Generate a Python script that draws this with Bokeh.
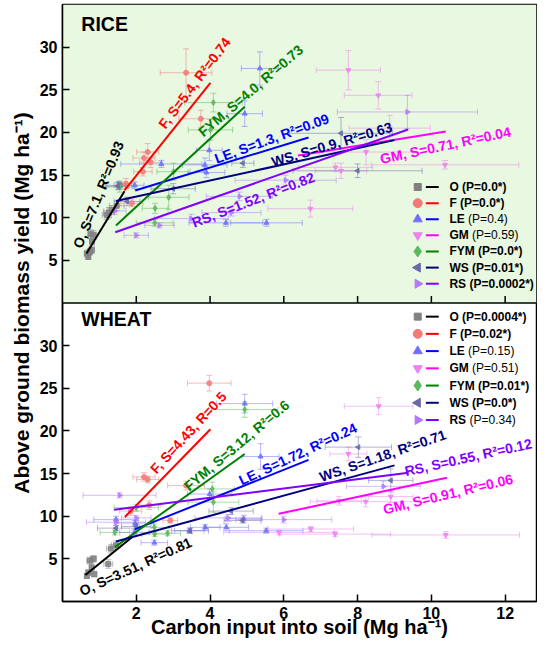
import math
from bokeh.plotting import figure
from bokeh.models import (Range1d, FixedTicker, ColumnDataSource, Whisker,
                          TeeHead, BoxAnnotation, Span)
from bokeh.core.properties import value
from bokeh.embed import file_html
from bokeh.resources import INLINE

FONT = "Liberation Sans"
SERIES = ["O", "F", "LE", "GM", "FYM", "WS", "RS"]
X_TICKS = [2, 4, 6, 8, 10, 12]
Y_TICKS = [5, 10, 15, 20, 25, 30]
PANEL_SPAN = 35

# ---------------- RICE (upper panel): mean +- error ----------------
RICE_O = dict(x=[0.66, 0.70, 0.74, 0.79, 0.76, 0.84, 0.80, 1.20, 1.26, 1.33, 1.47, 1.55],
              y=[5.8, 5.4, 6.0, 6.2, 8.1, 8.0, 7.2, 10.3, 10.6, 10.9, 11.4, 13.8],
              xe=[0.06, 0.05, 0.06, 0.08, 0.07, 0.08, 0.06, 0.12, 0.15, 0.12, 0.2, 0.15],
              ye=[0.4, 0.3, 0.4, 0.4, 0.5, 0.5, 0.4, 0.5, 0.6, 0.5, 0.6, 0.5])
RICE_F = dict(x=[3.35, 3.75, 2.31, 2.21, 2.39, 2.18, 1.88, 1.72],
              y=[27.0, 21.6, 17.7, 17.0, 16.5, 15.4, 11.7, 14.0],
              xe=[0.7, 0.6, 0.3, 0.3, 0.3, 0.25, 0.3, 0.2],
              ye=[2.8, 1.0, 1.0, 0.7, 0.6, 0.5, 0.4, 0.6])
RICE_LE = dict(x=[5.35, 4.94, 3.98, 3.86, 2.68, 3.90, 4.43, 5.53, 1.52, 1.96],
               y=[27.5, 22.2, 17.9, 16.2, 16.3, 15.3, 9.4, 9.4, 13.8, 13.8],
               xe=[0.5, 0.48, 0.35, 0.6, 1.1, 0.5, 1.0, 0.97, 0.35, 0.25],
               ye=[1.95, 1.5, 1.2, 0.8, 0.4, 0.6, 0.4, 0.4, 0.4, 0.4])
RICE_GM = dict(x=[7.75, 8.56, 8.23, 7.40, 7.55, 10.37, 6.72, 8.87],
               y=[27.3, 24.35, 17.7, 15.9, 15.5, 16.2, 11.06, 20.5],
               xe=[0.87, 0.92, 1.28, 1.0, 0.7, 2.0, 1.15, 1.1],
               ye=[2.3, 1.6, 1.5, 0.5, 0.9, 0.5, 1.0, 1.5])
RICE_FYM = dict(x=[4.09, 4.01, 2.88, 2.51, 2.50, 3.01, 1.55],
                y=[23.5, 20.3, 12.4, 11.1, 9.4, 15.4, 13.6],
                xe=[0.78, 0.6, 0.55, 0.35, 0.5, 0.45, 0.4],
                ye=[1.1, 1.2, 1.4, 0.6, 0.4, 1.0, 0.6])
RICE_WS = dict(x=[7.55, 8.0, 4.89, 1.50, 1.75, 3.0],
               y=[19.9, 15.5, 16.4, 13.7, 11.9, 13.4],
               xe=[1.4, 1.75, 0.3, 0.3, 0.35, 0.6],
               ye=[1.85, 0.8, 0.5, 0.4, 0.5, 0.6])
RICE_RS = dict(x=[9.35, 2.0, 2.63, 3.49, 4.58, 6.05, 4.8, 1.42],
               y=[22.4, 7.93, 9.1, 9.9, 10.6, 14.4, 12.5, 10.8],
               xe=[1.9, 0.33, 0.4, 1.0, 0.8, 1.37, 0.9, 0.3],
               ye=[1.95, 0.3, 0.3, 0.5, 0.4, 0.6, 0.5, 0.4])

RICE_FIT_X = {"O": [0.65, 1.68], "F": [1.68, 4.01], "LE": [1.97, 6.67], "GM": [6.38, 10.39],
              "FYM": [1.45, 4.94], "WS": [1.45, 9.0], "RS": [1.43, 9.37]}
RICE_FIT_Y = {"O": [5.8, 13.1], "F": [13.2, 25.8], "LE": [13.2, 19.4], "GM": [17.3, 20.1],
              "FYM": [9.1, 23.0], "WS": [11.95, 19.1], "RS": [8.3, 20.35]}
RICE_TEXT = {"O": "O, S=7.1, R\u00b2=0.93", "F": "F, S=5.4, R\u00b2=0.74",
             "LE": "LE, S=1.3, R\u00b2=0.09", "GM": "GM, S=0.71, R\u00b2=0.04",
             "FYM": "FYM, S=4.0, R\u00b2=0.73", "WS": "WS, S=0.9, R\u00b2=0.63",
             "RS": "RS, S=1.52, R\u00b2=0.82"}
RICE_P = {"O": "(P=0.0*)", "F": "(P=0.0*)", "LE": "(P=0.4)", "GM": "(P=0.59)",
          "FYM": "(P=0.0*)", "WS": "(P=0.01*)", "RS": "(P=0.0002*)"}

# ---------------- WHEAT (lower panel) ----------------
WHEAT_O = dict(x=[0.66, 0.70, 0.74, 0.79, 0.84, 0.86, 1.24, 1.31, 1.45],
               y=[3.0, 3.4, 4.8, 4.0, 5.0, 3.2, 4.4, 6.2, 6.6],
               xe=[0.06, 0.06, 0.08, 0.06, 0.08, 0.07, 0.12, 0.12, 0.12],
               ye=[0.3, 0.3, 0.4, 0.4, 0.4, 0.3, 0.5, 0.5, 0.5])
WHEAT_F = dict(x=[3.98, 2.21, 2.31, 3.35, 1.85, 2.92, 2.35],
               y=[25.6, 14.6, 14.3, 13.6, 10.6, 9.5, 11.3],
               xe=[0.59, 0.3, 0.3, 0.5, 0.3, 0.2, 0.3],
               ye=[0.92, 0.5, 0.4, 0.5, 0.5, 0.3, 0.5])
WHEAT_LE = dict(x=[4.94, 5.37, 3.99, 1.97, 1.45, 2.49, 3.44, 3.87, 4.44, 4.91, 5.52, 1.95],
                y=[23.2, 17.0, 12.6, 9.2, 9.6, 6.9, 8.3, 8.7, 8.7, 9.7, 8.3, 8.1],
                xe=[0.76, 0.5, 0.6, 0.5, 0.6, 0.36, 0.4, 0.4, 0.6, 0.5, 1.0, 0.4],
                ye=[1.1, 1.5, 0.6, 0.3, 0.4, 0.3, 0.3, 0.3, 0.4, 0.4, 0.3, 0.3])
WHEAT_GM = dict(x=[8.57, 7.75, 8.22, 7.5, 5.87, 6.73, 7.39, 10.39, 8.9],
                y=[22.9, 17.3, 11.7, 11.8, 8.1, 8.5, 7.9, 7.8, 12.3],
                xe=[0.93, 0.5, 1.5, 0.6, 1.5, 1.16, 1.5, 2.0, 0.6],
                ye=[1.0, 0.8, 0.6, 0.5, 0.3, 0.3, 0.3, 0.4, 0.7])
WHEAT_FYM = dict(x=[4.94, 4.06, 4.09, 2.50, 2.49, 1.42, 2.85, 2.0],
                 y=[22.5, 13.2, 11.65, 7.9, 8.7, 8.1, 8.0, 11.0],
                 xe=[0.9, 0.6, 0.69, 0.35, 0.4, 0.4, 0.35, 0.6],
                 ye=[0.9, 0.8, 1.2, 0.3, 0.4, 0.3, 0.3, 0.4])
WHEAT_WS = dict(x=[8.02, 8.9, 4.57, 4.88, 3.46, 2.0, 1.45],
                y=[18.1, 14.2, 10.6, 9.5, 8.3, 8.8, 8.6],
                xe=[0.9, 0.6, 0.6, 0.5, 0.5, 0.4, 0.5],
                ye=[1.2, 1.35, 0.4, 0.3, 0.3, 0.3, 0.3])
WHEAT_RS = dict(x=[1.55, 1.45, 2.0, 4.49, 6.0, 8.7],
                y=[12.45, 9.3, 9.8, 9.8, 9.6, 13.5],
                xe=[0.99, 0.8, 0.4, 0.9, 1.3, 1.0],
                ye=[0.3, 0.4, 0.3, 0.4, 0.4, 0.6])

WHEAT_FIT_X = {"O": [0.62, 1.9], "F": [1.69, 4.01], "LE": [1.96, 6.67], "GM": [5.86, 10.42],
               "FYM": [1.42, 4.94], "WS": [1.45, 9.0], "RS": [1.40, 9.38]}
WHEAT_FIT_Y = {"O": [3.1, 7.6], "F": [9.9, 20.2], "LE": [8.45, 16.6], "GM": [10.28, 14.5],
               "FYM": [6.37, 17.3], "WS": [7.03, 15.96], "RS": [10.76, 15.1]}
WHEAT_TEXT = {"O": "O, S=3.51, R\u00b2=0.81", "F": "F, S=4.43, R=0.5",
              "LE": "LE, S=1.72, R\u00b2=0.24", "GM": "GM, S=0.91, R\u00b2=0.06",
              "FYM": "FYM, S=3.12, R\u00b2=0.6", "WS": "WS, S=1.18, R\u00b2=0.71",
              "RS": "RS, S=0.55, R\u00b2=0.12"}
WHEAT_P = {"O": "(P=0.0004*)", "F": "(P=0.02*)", "LE": "(P=0.15)", "GM": "(P=0.51)",
           "FYM": "(P=0.01*)", "WS": "(P=0.0*)", "RS": "(P=0.34)"}

# ---------------- layout / style (not data) ----------------
RICE_TEXT_POS = {"O": (0.97, 12.7, 68), "F": (3.58, 25.8, 53), "FYM": (5.1, 24.9, 40.5),
                 "LE": (5.67, 19.3, 20), "WS": (7.3, 18.6, 16.5), "RS": (5.17, 12.1, 21),
                 "GM": (10.38, 18.5, 12)}
WHEAT_TEXT_POS = {"O": (1.98, 4.1, 24.5), "F": (3.41, 19.8, 47.5), "FYM": (4.72, 18.3, 40),
                  "LE": (6.38, 17.3, 25), "WS": (8.68, 17.1, 19), "RS": (11.0, 16.9, 12.5),
                  "GM": (10.45, 12.6, 13.5)}
LEG_X = (9.63, 9.85, 10.20, 10.49)   # marker, line start, line end, text

LINE_COLOR = {"O": "#000000", "F": "#ff0000", "LE": "#0000ff", "GM": "#ff00ff",
              "FYM": "#008000", "WS": "#000080", "RS": "#8000ff"}
MARK_COLOR = {"O": "#808080", "F": "#f47a7a", "LE": "#7070ff", "GM": "#ee82ee",
              "FYM": "#5cb85c", "WS": "#6a6aa6", "RS": "#b07aff"}
MARKER = {"O": ("square", 0.0), "F": ("circle", 0.0), "LE": ("triangle", 0.0),
          "GM": ("inverted_triangle", 0.0), "FYM": ("diamond", 0.0),
          "WS": ("triangle", math.pi / 2), "RS": ("triangle", -math.pi / 2)}
LEG_SIZE = {"O": 7, "F": 9, "LE": 9, "GM": 9, "FYM": 11, "WS": 9, "RS": 9}
BOLD_W = {"O": 778, "F": 611, "L": 611, "E": 667, "G": 778, "M": 833, "Y": 667,
          "W": 944, "S": 667, "R": 722, " ": 278}

p = figure(width=537, height=642, x_range=Range1d(0, 12.85), y_range=Range1d(0, 2 * PANEL_SPAN),
           output_backend="svg", toolbar_location=None,
           min_border_left=62, min_border_right=1, min_border_top=4, min_border_bottom=41)
p.extra_y_ranges = {"rice": Range1d(-PANEL_SPAN, PANEL_SPAN)}
p.grid.visible = False
p.outline_line_color = "black"
p.outline_line_width = 1.5
p.background_fill_color = "white"
p.border_fill_color = "white"

p.add_layout(BoxAnnotation(bottom=PANEL_SPAN, fill_color="#e8f8e1", fill_alpha=1.0,
                           line_color=None, level="underlay"))
p.add_layout(Span(location=PANEL_SPAN, dimension="width", line_color="black", line_width=1.5))

xa = p.xaxis[0]
xa.ticker = FixedTicker(ticks=X_TICKS)
ya = p.yaxis[0]
ya.ticker = FixedTicker(ticks=Y_TICKS + [t + PANEL_SPAN for t in Y_TICKS])
ya.major_label_overrides = {t + PANEL_SPAN: str(t) for t in Y_TICKS}
for ax in (xa, ya):
    ax.major_tick_in = 7
    ax.major_tick_out = 0
    ax.minor_tick_line_color = None
    ax.axis_line_width = 1.5
    ax.major_tick_line_width = 1.5
    ax.major_label_text_font = FONT
    ax.major_label_text_font_style = "bold"
    ax.major_label_text_font_size = "16px"
    ax.major_label_text_color = "black"
    ax.axis_label_text_font = FONT
    ax.axis_label_text_font_style = "bold"
    ax.axis_label_text_color = "black"
xa.axis_label = "Carbon input into soil (Mg ha\u207b\u00b9)"
xa.axis_label_text_font_size = "20px"
xa.major_label_standoff = 5
xa.axis_label_standoff = -6
ya.axis_label = "Above ground biomass yield (Mg ha\u207b\u00b9)"
ya.axis_label_text_font_size = "21px"
ya.major_label_standoff = 5
ya.axis_label_standoff = 4

# x ticks on the divider for the upper panel
p.segment(x0=X_TICKS, x1=X_TICKS, y0=[0] * len(X_TICKS), y1=[0.82] * len(X_TICKS),
          y_range_name="rice", line_color="black", line_width=1.5)


def bold_width(s, size):
    return sum(BOLD_W.get(c, 600) for c in s) * size / 1000.0


def draw_panel(data, fit_x, fit_y, texts, text_pos, pvals, rng, title, title_y, leg_y0, leg_dy):
    # error bars
    for k in SERIES:
        d = data[k]
        src = ColumnDataSource(dict(
            x=d["x"], y=d["y"],
            yl=[a - b for a, b in zip(d["y"], d["ye"])], yu=[a + b for a, b in zip(d["y"], d["ye"])],
            xl=[a - b for a, b in zip(d["x"], d["xe"])], xu=[a + b for a, b in zip(d["x"], d["xe"])]))
        c = MARK_COLOR[k]
        for dim, base, lo, up in (("height", "x", "yl", "yu"), ("width", "y", "xl", "xu")):
            w = Whisker(source=src, base=base, lower=lo, upper=up, dimension=dim,
                        line_color=c, line_alpha=0.5, line_width=1,
                        upper_head=TeeHead(size=6, line_color=c, line_alpha=0.5, line_width=1),
                        lower_head=TeeHead(size=6, line_color=c, line_alpha=0.5, line_width=1),
                        y_range_name=rng)
            p.add_layout(w)
    # markers
    for k in SERIES:
        d = data[k]
        m, ang = MARKER[k]
        p.scatter(d["x"], d["y"], marker=m, angle=ang, size=5 if k != "FYM" else 6,
                  fill_color=MARK_COLOR[k], line_color=MARK_COLOR[k], fill_alpha=0.85,
                  line_alpha=0.85, y_range_name=rng)
    # regression lines
    for k in SERIES:
        p.line(fit_x[k], fit_y[k], line_color=LINE_COLOR[k], line_width=2, y_range_name=rng)
    # rotated fit labels
    for k in SERIES:
        tx, ty, ta = text_pos[k]
        p.text(x=[tx], y=[ty], text=[texts[k]], angle=ta, angle_units="deg",
               text_font=value(FONT), text_font_style="bold", text_font_size="14px",
               text_color=LINE_COLOR[k], text_align="center", text_baseline="middle",
               y_range_name=rng)
    # panel title
    p.text(x=[0.51], y=[title_y], text=[title], text_font=value(FONT), text_font_style="bold",
           text_font_size="19.5px", text_color="black", text_align="left",
           text_baseline="middle", y_range_name=rng)
    # legend
    mx, lx0, lx1, tx0 = LEG_X
    for i, k in enumerate(SERIES):
        ly = leg_y0 - i * leg_dy
        m, ang = MARKER[k]
        p.scatter([mx], [ly], marker=m, angle=ang, size=LEG_SIZE[k], fill_color=MARK_COLOR[k],
                  line_color=MARK_COLOR[k], y_range_name=rng)
        p.segment(x0=[lx0], x1=[lx1], y0=[ly], y1=[ly], line_color=LINE_COLOR[k],
                  line_width=2, y_range_name=rng)
        pv = pvals[k]
        if "*" in pv:
            p.text(x=[tx0], y=[ly], text=[k + " " + pv], text_font=value(FONT),
                   text_font_style="bold", text_font_size="12px", text_color="black",
                   text_align="left", text_baseline="middle", y_range_name=rng)
        else:
            p.text(x=[tx0], y=[ly], text=[k], text_font=value(FONT),
                   text_font_style="bold", text_font_size="12px", text_color="black",
                   text_align="left", text_baseline="middle", y_range_name=rng)
            p.text(x=[tx0], y=[ly], text=[pv], x_offset=bold_width(k + " ", 12),
                   text_font=value(FONT), text_font_style="normal", text_font_size="12px",
                   text_color="black", text_align="left", text_baseline="middle",
                   y_range_name=rng)


RICE = {"O": RICE_O, "F": RICE_F, "LE": RICE_LE, "GM": RICE_GM, "FYM": RICE_FYM,
        "WS": RICE_WS, "RS": RICE_RS}
WHEAT = {"O": WHEAT_O, "F": WHEAT_F, "LE": WHEAT_LE, "GM": WHEAT_GM, "FYM": WHEAT_FYM,
         "WS": WHEAT_WS, "RS": WHEAT_RS}

draw_panel(RICE, RICE_FIT_X, RICE_FIT_Y, RICE_TEXT, RICE_TEXT_POS, RICE_P, "rice",
           "RICE", 32.7, 13.6, 1.89)
draw_panel(WHEAT, WHEAT_FIT_X, WHEAT_FIT_Y, WHEAT_TEXT, WHEAT_TEXT_POS, WHEAT_P, "default",
           "WHEAT", 33.1, 33.4, 2.02)

open("out.html", "w").write(file_html(p, INLINE))
